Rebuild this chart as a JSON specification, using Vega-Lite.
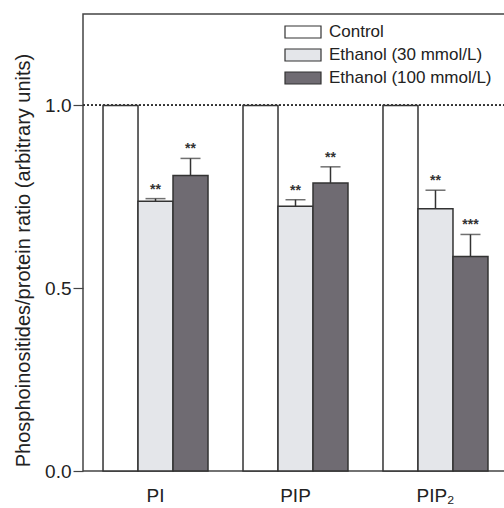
{
  "$schema": "https://vega.github.io/schema/vega-lite/v6.json",
  "autosize": "none",
  "padding": {"left": 83, "top": 14, "right": 0, "bottom": 37},
  "width": 425,
  "height": 457,
  "background": "white",
  "config": {
    "font": "Liberation Sans",
    "view": {"stroke": "#444", "strokeWidth": 1.5},
    "axis": {"labelFont": "Liberation Sans", "titleFont": "Liberation Sans"}
  },
  "data": {
    "values": [
      {"group": "PI", "series": "Control", "value": 1.0},
      {"group": "PI", "series": "Ethanol (30 mmol/L)", "value": 0.738, "upper": 0.745, "sig": "**"},
      {"group": "PI", "series": "Ethanol (100 mmol/L)", "value": 0.808, "upper": 0.855, "sig": "**"},
      {"group": "PIP", "series": "Control", "value": 1.0},
      {"group": "PIP", "series": "Ethanol (30 mmol/L)", "value": 0.724, "upper": 0.742, "sig": "**"},
      {"group": "PIP", "series": "Ethanol (100 mmol/L)", "value": 0.788, "upper": 0.832, "sig": "**"},
      {"group": "PIP₂", "series": "Control", "value": 1.0},
      {"group": "PIP₂", "series": "Ethanol (30 mmol/L)", "value": 0.717, "upper": 0.768, "sig": "**"},
      {"group": "PIP₂", "series": "Ethanol (100 mmol/L)", "value": 0.587, "upper": 0.647, "sig": "***"}
    ]
  },
  "encoding": {
    "x": {
      "field": "group", "type": "nominal", "sort": ["PI", "PIP", "PIP₂"],
      "scale": {"paddingInner": 0.25, "paddingOuter": 0.143},
      "axis": {"title": null, "labelAngle": 0, "labelFontSize": 19, "labelColor": "#222", "labelPadding": 15, "ticks": false, "domain": false}
    },
    "xOffset": {
      "field": "series", "type": "nominal",
      "sort": ["Control", "Ethanol (30 mmol/L)", "Ethanol (100 mmol/L)"],
      "scale": {"paddingInner": 0, "paddingOuter": 0}
    }
  },
  "layer": [
    {
      "mark": {"type": "bar", "stroke": "#333", "strokeWidth": 1.5},
      "encoding": {
        "y": {
          "field": "value", "type": "quantitative",
          "scale": {"domain": [0, 1.25], "nice": false},
          "axis": {
            "values": [0, 0.5, 1.0], "format": ".1f", "grid": false,
            "title": "Phosphoinositides/protein ratio (arbitrary units)",
            "titleFontSize": 20, "titleFontWeight": "normal", "titleColor": "#222",
            "titleX": -50, "titleY": 246,
            "labelFontSize": 19, "labelColor": "#222", "labelPadding": 2,
            "tickSize": 10, "tickColor": "#444", "tickWidth": 1.2, "domain": false
          }
        },
        "fill": {
          "field": "series", "type": "nominal",
          "sort": ["Control", "Ethanol (30 mmol/L)", "Ethanol (100 mmol/L)"],
          "scale": {
            "domain": ["Control", "Ethanol (30 mmol/L)", "Ethanol (100 mmol/L)"],
            "range": ["#ffffff", "#e4e6ea", "#6f6b72"]
          },
          "legend": {
            "title": null, "orient": "none", "legendX": 207, "legendY": 5,
            "symbolType": "M-1.5,-0.5H1.5V0.5H-1.5Z", "symbolSize": 576,
            "symbolStrokeColor": "#333", "symbolStrokeWidth": 1.2,
            "labelFontSize": 17, "labelColor": "#222", "labelLimit": 300,
            "rowPadding": 1, "labelOffset": 13
          }
        }
      }
    },
    {
      "mark": {"type": "rule", "strokeDash": [2, 2], "color": "#333", "strokeWidth": 1.2},
      "encoding": {"y": {"datum": 1.0}, "x": {"value": 0}, "x2": {"value": 425}, "xOffset": null}
    },
    {
      "transform": [{"filter": "isValid(datum.upper)"}],
      "mark": {"type": "rule", "color": "#333", "strokeWidth": 1.5},
      "encoding": {
        "y": {"field": "value", "type": "quantitative"},
        "y2": {"field": "upper"}
      }
    },
    {
      "transform": [{"filter": "isValid(datum.upper)"}],
      "mark": {"type": "tick", "color": "#333", "thickness": 1.5, "size": 20},
      "encoding": {"y": {"field": "upper", "type": "quantitative"}}
    },
    {
      "transform": [{"filter": "isValid(datum.upper)"}],
      "mark": {"type": "text", "fontSize": 14, "fontWeight": "bold", "color": "#333", "dy": -9},
      "encoding": {
        "y": {"field": "upper", "type": "quantitative"},
        "text": {"field": "sig"}
      }
    }
  ]
}
